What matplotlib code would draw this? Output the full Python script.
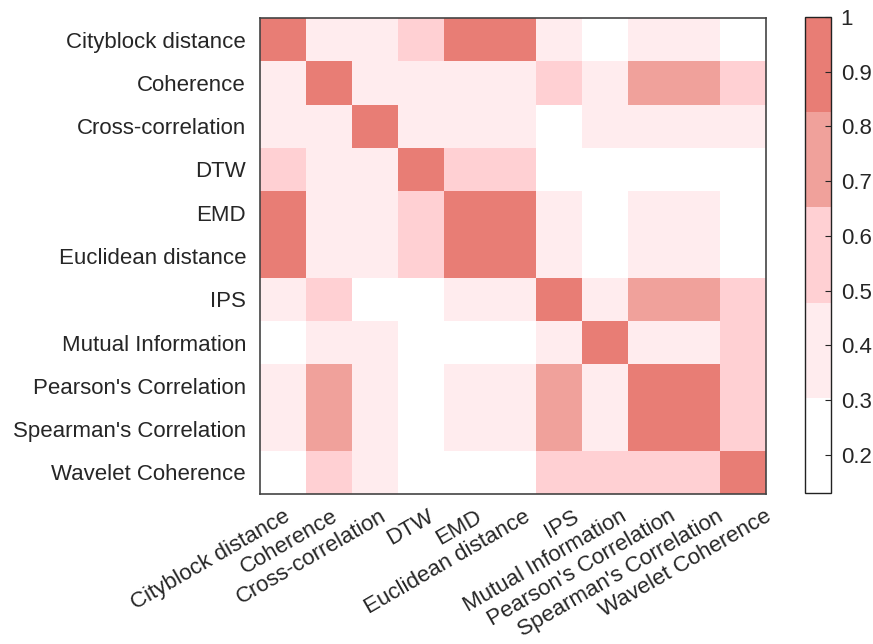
import numpy as np
import matplotlib.pyplot as plt
from matplotlib.colors import ListedColormap, BoundaryNorm
from matplotlib.ticker import NullLocator
from matplotlib.transforms import ScaledTranslation

plt.rcParams['font.family'] = ['Liberation Sans', 'DejaVu Sans']

methods = ["Cityblock distance", "Coherence", "Cross-correlation", "DTW", "EMD",
           "Euclidean distance", "IPS", "Mutual Information", "Pearson's Correlation",
           "Spearman's Correlation", "Wavelet Coherence"]

# similarity between methods (binned colours)
sim = np.array([
    [1.00, 0.38, 0.40, 0.52, 0.95, 0.99, 0.36, 0.18, 0.42, 0.41, 0.22],
    [0.38, 1.00, 0.40, 0.37, 0.39, 0.38, 0.56, 0.35, 0.74, 0.72, 0.55],
    [0.40, 0.40, 1.00, 0.42, 0.41, 0.40, 0.14, 0.36, 0.39, 0.38, 0.35],
    [0.52, 0.37, 0.42, 1.00, 0.54, 0.53, 0.20, 0.24, 0.19, 0.18, 0.22],
    [0.95, 0.39, 0.41, 0.54, 1.00, 0.96, 0.37, 0.20, 0.43, 0.42, 0.23],
    [0.99, 0.38, 0.40, 0.53, 0.96, 1.00, 0.36, 0.19, 0.42, 0.41, 0.22],
    [0.36, 0.56, 0.14, 0.20, 0.37, 0.36, 1.00, 0.38, 0.70, 0.68, 0.58],
    [0.18, 0.35, 0.36, 0.24, 0.20, 0.19, 0.38, 1.00, 0.40, 0.41, 0.50],
    [0.42, 0.74, 0.39, 0.19, 0.43, 0.42, 0.70, 0.40, 1.00, 0.97, 0.55],
    [0.41, 0.72, 0.38, 0.18, 0.42, 0.41, 0.68, 0.41, 0.97, 1.00, 0.54],
    [0.22, 0.55, 0.35, 0.22, 0.23, 0.22, 0.58, 0.50, 0.55, 0.54, 1.00],
])

colors = ["#FFFFFF", "#FFECEE", "#FFD0D3", "#F0A19B", "#E87D75"]
cmap = ListedColormap(colors)
vmin, vmax = 0.13, 1.0
norm = BoundaryNorm(np.linspace(vmin, vmax, len(colors) + 1), cmap.N)

fig = plt.figure(figsize=(8.73, 6.44), dpi=100)
ax = fig.add_axes([0.2978, 0.2329, 0.5796, 0.7392])
cax = fig.add_axes([0.9221, 0.2345, 0.0298, 0.7392])

n = len(methods)
mesh = ax.pcolormesh(np.arange(n + 1), np.arange(n + 1), sim, cmap=cmap, norm=norm)
ax.set_xlim(0, n)
ax.set_ylim(n, 0)
ax.set_yticks(np.arange(n) + 0.5)
ax.set_yticklabels(methods, fontsize=16, color="#262626")
ax.set_xticks([])
ax.tick_params(axis="both", length=0)
ax.tick_params(axis="y", pad=10)

# rotated column labels, spread a bit wider than the cells like the original
lab_tr = ax.get_xaxis_transform() + ScaledTranslation(0, -0.21, fig.dpi_scale_trans)
for i, name in enumerate(methods):
    ax.text(i + 0.5 + (5 + 2.2 * i) / 46, 0, name, transform=lab_tr, fontsize=16,
            color="#262626", rotation=30, ha="right", va="center",
            rotation_mode="anchor")

for s in ax.spines.values():
    s.set_color("#444444")
    s.set_linewidth(1.2)

cb = fig.colorbar(mesh, cax=cax)
cb.set_ticks([0.2, 0.3, 0.4, 0.5, 0.6, 0.7, 0.8, 0.9, 1.0])
cb.set_ticklabels(["0.2", "0.3", "0.4", "0.5", "0.6", "0.7", "0.8", "0.9", "1"])
cax.yaxis.set_minor_locator(NullLocator())
cax.tick_params(direction="in", length=4, width=0.8, labelsize=16, colors="#262626", pad=7)
cb.outline.set_edgecolor("#222222")
cb.outline.set_linewidth(1.0)

fig.savefig("out.png", dpi=100)
